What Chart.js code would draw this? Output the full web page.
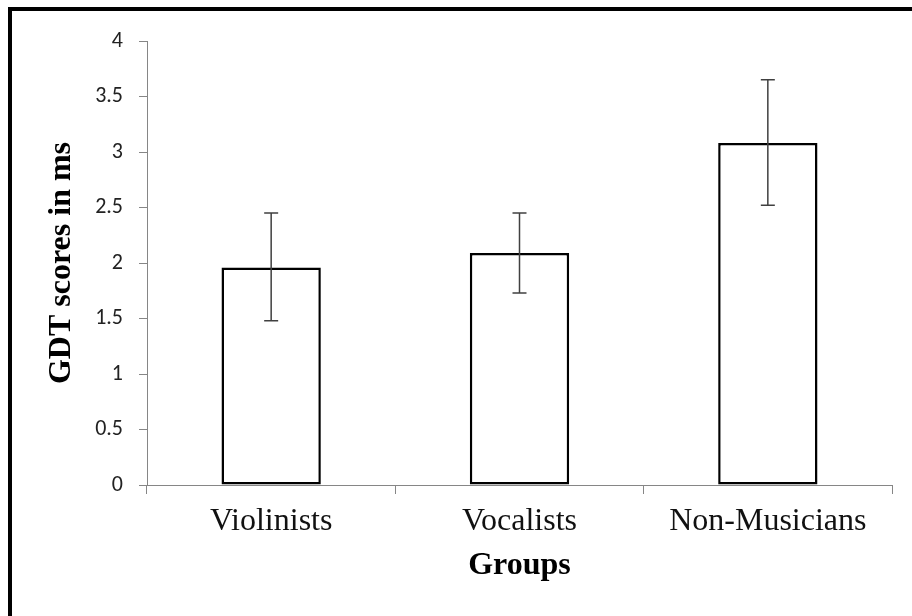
<!DOCTYPE html>
<html>
<head>
<meta charset="utf-8">
<script src="https://cdn.jsdelivr.net/npm/chart.js@4"></script>
<style>
  html, body { margin: 0; padding: 0; background: #fff; }
  #wrap { position: relative; width: 912px; height: 616px; overflow: hidden; }
  #frame {
    position: absolute; left: 8px; top: 7px; width: 1000px; height: 700px;
    border-left: 4px solid #000; border-top: 4px solid #000;
    pointer-events: none;
  }
  canvas { position: absolute; left: 0; top: 0; }
</style>
</head>
<body>
<div id="wrap">
  <canvas id="chart" width="912" height="616"></canvas>
  <div id="frame"></div>
</div>
<script>
// Data
const groups = ['Violinists', 'Vocalists', 'Non-Musicians'];
const means = [1.96, 2.09, 3.08];
const errLow = [1.48, 1.73, 2.52];
const errHigh = [2.45, 2.45, 3.65];
const yTickLabels = ['0', '0.5', '1', '1.5', '2', '2.5', '3', '3.5', '4'];

const AXIS_GRAY = '#868686';

// Draw the error bars from the data arrays through the y scale
const errorBars = {
    id: 'errorBars',
    afterDatasetsDraw(chart) {
        const ctx = chart.ctx;
        const y = chart.scales.y;
        const meta = chart.getDatasetMeta(0);
        ctx.save();
        ctx.strokeStyle = '#404040';
        ctx.lineWidth = 1.5;
        meta.data.forEach((bar, i) => {
            const x = bar.x;
            const top = y.getPixelForValue(errHigh[i]);
            const bot = y.getPixelForValue(errLow[i]);
            ctx.beginPath();
            ctx.moveTo(x, top);
            ctx.lineTo(x, bot);
            ctx.moveTo(x - 7, top);
            ctx.lineTo(x + 7, top);
            ctx.moveTo(x - 7, bot);
            ctx.lineTo(x + 7, bot);
            ctx.stroke();
        });
        ctx.restore();
    }
};

new Chart(document.getElementById('chart'), {
    type: 'bar',
    data: {
        labels: groups,
        datasets: [{
            data: means,
            backgroundColor: '#ffffff',
            borderColor: '#000000',
            borderWidth: 2.5,
            borderSkipped: false,
            categoryPercentage: 1,
            barPercentage: 0.4
        }]
    },
    options: {
        responsive: false,
        animation: false,
        devicePixelRatio: 1,
        layout: { padding: { left: 0, top: 41, right: 20, bottom: 31 } },
        plugins: {
            legend: { display: false },
            tooltip: { enabled: false }
        },
        scales: {
            x: {
                afterFit: (scale) => { scale.height = 100; },
                grid: {
                    offset: true,
                    drawOnChartArea: false,
                    color: AXIS_GRAY,
                    tickLength: 9
                },
                border: { color: AXIS_GRAY, width: 1 },
                ticks: {
                    padding: 8,
                    color: '#111',
                    font: { family: 'Liberation Serif', size: 32 }
                },
                title: {
                    display: true,
                    text: 'Groups',
                    color: '#000',
                    padding: { top: 0, bottom: 0 },
                    font: { family: 'Liberation Serif', size: 32, weight: 'bold' }
                }
            },
            y: {
                min: 0,
                max: 4,
                afterFit: (scale) => { scale.width = 147; },
                grid: {
                    drawOnChartArea: false,
                    color: AXIS_GRAY,
                    tickLength: 8
                },
                border: { color: AXIS_GRAY, width: 1 },
                ticks: {
                    stepSize: 0.5,
                    padding: 16,
                    color: '#222',
                    font: { family: 'Carlito, Lato, sans-serif', size: 22 },
                    callback: (value, i) => yTickLabels[i]
                },
                title: {
                    display: true,
                    text: 'GDT scores in ms',
                    color: '#000',
                    padding: { top: 43, bottom: 0 },
                    font: { family: 'Liberation Serif', size: 32, weight: 'bold' }
                }
            }
        }
    },
    plugins: [errorBars]
});
</script>
</body>
</html>
